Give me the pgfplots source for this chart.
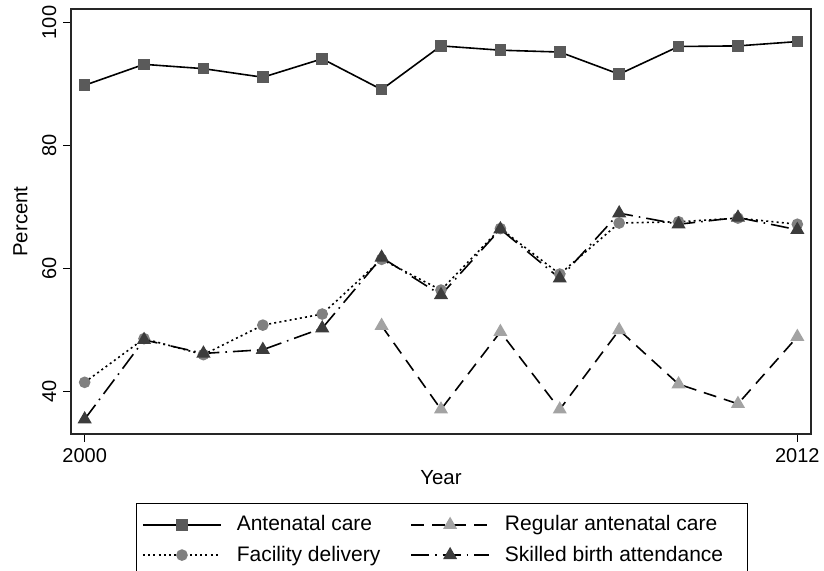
\documentclass[border=0pt]{standalone}
\usepackage{pgfplots}
\pgfplotsset{compat=1.18}
\usepackage{fontspec}
\setmainfont{Liberation Sans}
\definecolor{sqc}{HTML}{5A5A5A}
\definecolor{cic}{HTML}{808080}
\definecolor{ltc}{HTML}{A3A3A3}
\definecolor{dtc}{HTML}{3C3C3C}
\begin{document}
\begin{tikzpicture}
\begin{axis}[
  at={(35.5pt,68.5pt)}, anchor=south west,
  scale only axis, width=370pt, height=212.5pt,
  xmin=1999.77, xmax=2012.23, ymin=33.1, ymax=102.2,
  xtick={2000,2012}, ytick={40,60,80,100},
  tick pos=left, tick align=outside, major tick length=3.8pt,
  axis line style={line width=0.6pt, draw=black!85},
  every tick/.style={black, line width=0.5pt},
  /pgf/number format/assume math mode=true,
  x tick label style={/pgf/number format/1000 sep={}},
  tick label style={font=\fontsize{10}{12}\selectfont},
  yticklabel style={rotate=90, anchor=south},
  xlabel={Year}, ylabel={Percent},
  label style={font=\fontsize{10.2}{12}\selectfont},
  xlabel style={at={(axis description cs:0.5,-0.0847)}, anchor=north, inner sep=0pt},
  ylabel style={at={(axis description cs:-0.0784,0.5)}, anchor=north, inner sep=0pt},
  legend columns=2,
  legend cell align=left,
  legend style={at={(axis description cs:0.0874,-0.163)}, anchor=north west,
    draw=black, line width=0.5pt, font=\fontsize{10.5}{12}\selectfont,
    inner xsep=3pt, inner ysep=4pt, row sep=2pt,
    /tikz/every even column/.append style={column sep=13pt},
    /tikz/every odd column/.append style={column sep=5.5pt}},
  legend image code/.code={\draw[mark repeat=2, mark phase=2] plot coordinates {(0pt,0pt) (19.5pt,0pt) (39pt,0pt)};},
]
\addplot[black, line width=0.8pt, mark=square*, mark size=2.5pt, mark options={sqc, solid, draw=sqc, fill=sqc}] coordinates {
(2000,89.8) (2001,93.2) (2002,92.5) (2003,91.1) (2004,94.1) (2005,89.1) (2006,96.2)
(2007,95.5) (2008,95.2) (2009,91.6) (2010,96.1) (2011,96.2) (2012,96.9)};
\addlegendentry{Antenatal care}
\addplot[black, line width=0.8pt, dash pattern=on 6.5pt off 4pt, mark=triangle*, mark size=3.3pt, mark options={ltc, solid, draw=ltc, fill=ltc}] coordinates {
(2005,50.7) (2006,37.1) (2007,49.7) (2008,37.1) (2009,50.0) (2010,41.2) (2011,38.0) (2012,48.9)};
\addlegendentry{Regular antenatal care}
\addplot[black, line width=0.8pt, dash pattern=on 1pt off 1.6pt, mark=*, mark size=2.5pt, mark options={cic, solid, draw=cic, fill=cic}] coordinates {
(2000,41.5) (2001,48.6) (2002,46.0) (2003,50.8) (2004,52.6) (2005,61.5) (2006,56.5)
(2007,66.5) (2008,59.1) (2009,67.4) (2010,67.6) (2011,68.2) (2012,67.2)};
\addlegendentry{Facility delivery}
\addplot[black, line width=0.8pt, dash pattern=on 9pt off 3pt on 0.8pt off 3pt, mark=triangle*, mark size=3.3pt, mark options={dtc, solid, draw=dtc, fill=dtc}] coordinates {
(2000,35.5) (2001,48.4) (2002,46.2) (2003,46.8) (2004,50.3) (2005,61.8) (2006,55.7)
(2007,66.4) (2008,58.4) (2009,69.0) (2010,67.2) (2011,68.3) (2012,66.3)};
\addlegendentry{Skilled birth attendance\rule{7pt}{0pt}}
\end{axis}
\pgfresetboundingbox
\path[use as bounding box] (0,0) rectangle (412pt,285.5pt);
\end{tikzpicture}
\end{document}
